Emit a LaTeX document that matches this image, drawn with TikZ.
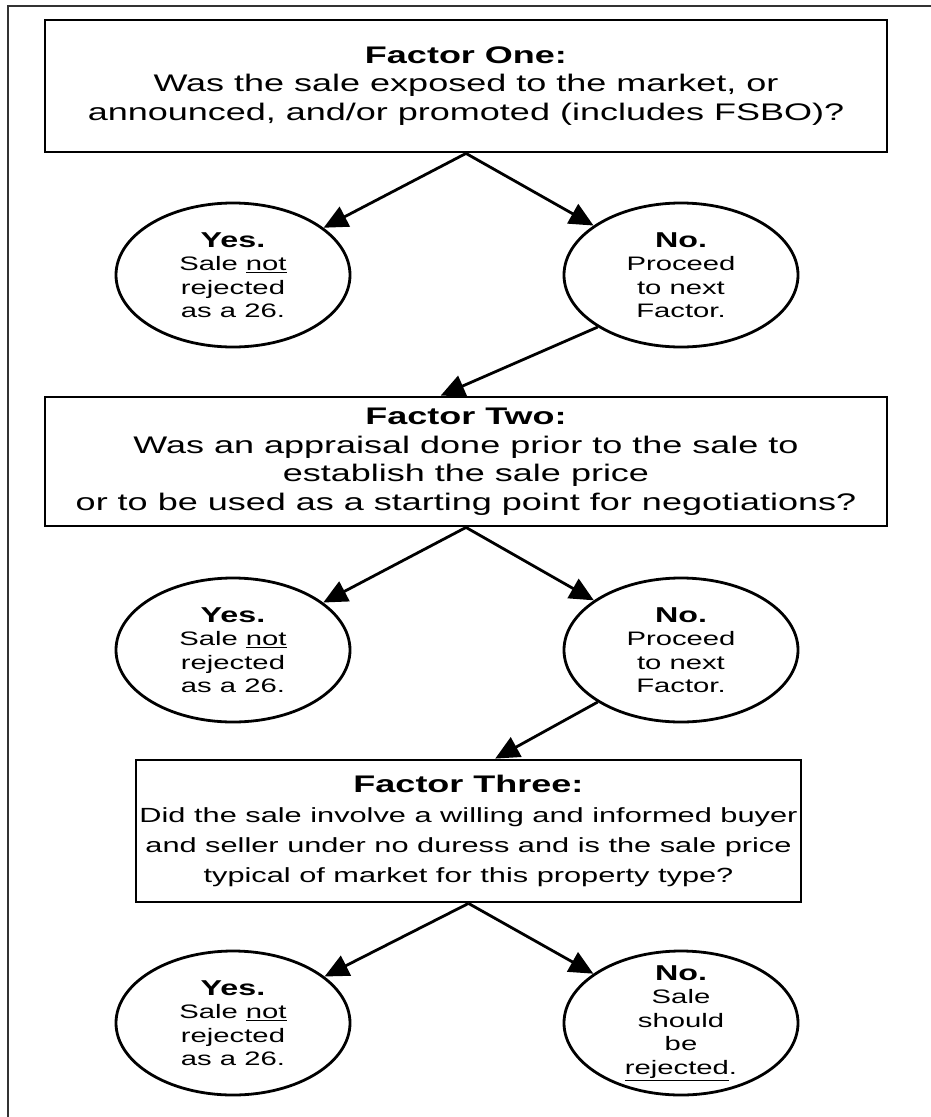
\documentclass[tikz,border=0pt]{standalone}
\usepackage{fontspec}
\setmainfont{Liberation Sans}[FakeStretch=1.5]
\usetikzlibrary{shapes.geometric, arrows.meta, calc}

\newcommand{\headword}[1]{{\fontsize{21.5}{24}\selectfont\bfseries #1}}

\begin{document}
\begin{tikzpicture}[
    x=1pt, y=-1pt,
    >={Triangle[length=24pt, width=22pt]}, % big filled heads
    % Styles
    factor/.style={ % Question boxes
        rectangle,
        draw,
        line width=2.8pt,
        align=center,
        inner sep=0pt,
        font=\fontsize{24}{28.5}\selectfont
    },
    choice/.style={ % Answer ellipses
        ellipse,
        draw,
        line width=2.8pt,
        minimum width=234pt,
        minimum height=144pt,
        inner xsep=0pt,
        inner ysep=-12pt,
        align=center,
        font=\fontsize{19.5}{23.5}\selectfont
    },
    arrow/.style={
        ->,
        line width=2.8pt
    }
]
    \useasboundingbox (0,0) rectangle (931,1117);

    % Frame
    \draw[line width=2pt, black!80] (8,1117) -- (8,6) -- (931,6);

    % Factors
    \node[factor, minimum width=842pt, minimum height=132pt]
        (one) at (466,86) {\textbf{Factor One:}\\ Was the sale exposed to the market, or\\ announced, and/or promoted (includes FSBO)?};
    \node[factor, minimum width=842pt, minimum height=129pt]
        (two) at (466,461.5) {\textbf{Factor Two:}\\ Was an appraisal done prior to the sale to\\ establish the sale price\\ or to be used as a starting point for negotiations?};
    \node[factor, minimum width=665pt, minimum height=142pt, font=\fontsize{20.5}{30}\selectfont]
        (three) at (468.5,831) {{\fontsize{24}{30}\selectfont\bfseries Factor Three:}\\ Did the sale involve a willing and informed buyer\\ and seller under no duress and is the sale price\\ typical of market for this property type?};

    % Answers
    \foreach \r/\y in {1/275, 2/650, 3/1023}
        \node[choice] (yes\r) at (233,\y) {\headword{Yes.}\\ Sale \underline{not}\\ rejected\\ as a 26.};
    \foreach \r/\y in {1/275, 2/650}
        \node[choice] (no\r) at (681,\y) {\headword{No.}\\ Proceed\\ to next\\ Factor.};
    \node[choice] (no3) at (681,1023) {\headword{No.}\\ Sale\\ should\\ be\\ \underline{rejected}.};

    % Factor -> Answers
    \foreach \b/\r in {one/1, two/2, three/3} {
        \draw[arrow] (\b.south) -- (yes\r);
        \draw[arrow] (\b.south) -- (no\r);
    }

    % No -> next Factor
    \draw[arrow] (no1.212) -- ($(two.north west)!0.47!(two.north east)$);
    \draw[arrow] (no2.212) -- ($(three.north west)!0.54!(three.north east)$);
\end{tikzpicture}
\end{document}
